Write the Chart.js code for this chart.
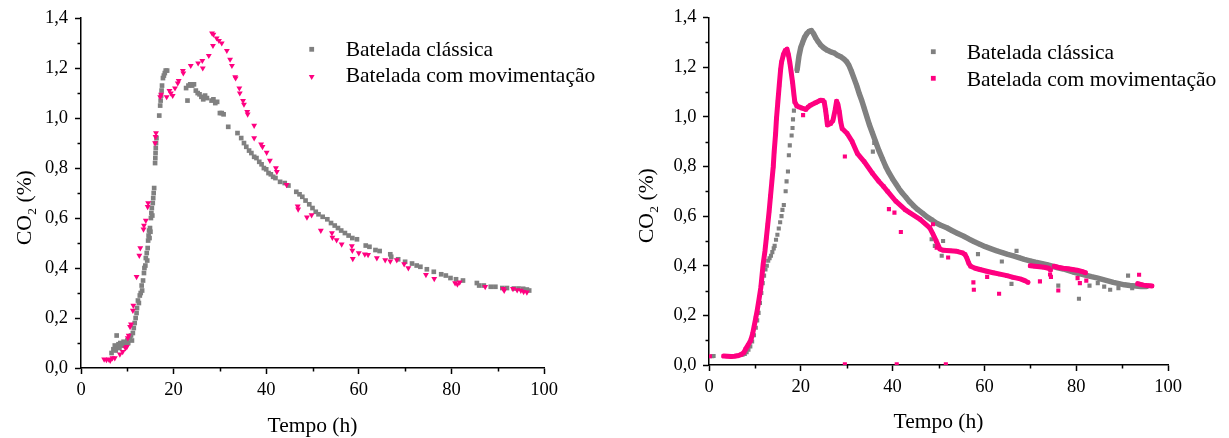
<!DOCTYPE html>
<html>
<head>
<meta charset="utf-8">
<title>CO2 - bateladas</title>
<script src="https://cdn.jsdelivr.net/npm/chart.js@4.4.1/dist/chart.umd.min.js"></script>
<style>
  html, body { margin: 0; padding: 0; background: #fff; }
  #wrap { position: relative; width: 1229px; height: 438px; overflow: hidden; }
  canvas { position: absolute; top: 0; }
  #chartA { left: 0; }
  #chartB { left: 614px; }
</style>
</head>
<body>
<div id="wrap">
  <canvas id="chartA" width="614" height="438"></canvas>
  <canvas id="chartB" width="615" height="438"></canvas>
</div>
<script>
// ---- axes ----
const timeTicks = [0, 20, 40, 60, 80, 100];
const timeLabels = ['0', '20', '40', '60', '80', '100'];
const timeMinor = [10, 30, 50, 70, 90];
const co2Ticks = [0, 0.2, 0.4, 0.6, 0.8, 1.0, 1.2, 1.4];
const co2Labels = ['0,0', '0,2', '0,4', '0,6', '0,8', '1,0', '1,2', '1,4'];
const co2Minor = [0.1, 0.3, 0.5, 0.7, 0.9, 1.1, 1.3];
const seriesNames = ['Batelada clássica', 'Batelada com movimentação'];

// ---- left panel: [tempo (h), CO2 (%)] ----
const classicA = [
  [6.6,0.06],[7.0,0.075],[7.3,0.09],[7.5,0.07],[7.7,0.13],[7.9,0.085],[8.1,0.095],[8.3,0.08],[8.5,0.1],[8.7,0.09],
  [9.0,0.095],[9.2,0.105],[9.4,0.09],[9.7,0.1],[10.0,0.11],[10.2,0.1],[10.5,0.12],[10.8,0.13],[11.0,0.11],[11.2,0.14],
  [11.4,0.16],[11.6,0.18],[11.8,0.2],[12.0,0.22],[12.1,0.24],[12.3,0.27],[12.5,0.26],[12.7,0.29],[12.9,0.3],[13.1,0.33],
  [13.2,0.31],[13.4,0.35],[13.6,0.38],[13.7,0.4],[13.9,0.41],[14.0,0.44],[14.2,0.46],[14.3,0.43],[14.4,0.48],[14.5,0.51],
  [14.6,0.53],[14.7,0.55],[14.8,0.52],[14.9,0.56],[15.0,0.545],[15.1,0.6],[15.2,0.62],[15.3,0.64],[15.4,0.61],[15.5,0.66],
  [15.6,0.68],[15.7,0.7],[15.8,0.72],[16.0,0.82],[16.05,0.84],[16.1,0.86],[16.15,0.88],[16.2,0.9],[16.3,0.92],[16.9,1.01],
  [17.1,1.05],[17.2,1.07],[17.3,1.09],[17.4,1.11],[17.5,1.13],[17.7,1.16],[17.9,1.17],[18.1,1.18],[18.3,1.19],[18.6,1.19],
  [22.7,1.12],[23.0,1.07],[23.2,1.13],[23.6,1.135],[24.0,1.13],[24.4,1.135],[24.8,1.11],[25.2,1.1],[25.6,1.095],[26.0,1.085],
  [26.4,1.075],[26.8,1.09],[27.2,1.08],[28.2,1.07],[28.6,1.075],[29.0,1.06],[29.4,1.065],[30.0,1.02],[30.4,1.02],[30.8,1.015],
  [31.8,0.965],[33.8,0.94],[34.6,0.92],[35.2,0.9],[35.7,0.885],[36.3,0.87],[36.8,0.86],[37.4,0.845],[37.9,0.84],[38.5,0.825],
  [39.0,0.815],[39.5,0.8],[40.0,0.795],[40.5,0.78],[41.0,0.775],[41.5,0.765],[42.0,0.76],[43.0,0.745],[44.0,0.74],[44.8,0.73],
  [46.5,0.705],[47.2,0.695],[47.8,0.685],[48.5,0.67],[49.3,0.655],[50.0,0.64],[50.7,0.625],[51.3,0.615],[52.2,0.605],[53.2,0.595],
  [54.0,0.58],[54.8,0.57],[55.5,0.56],[56.2,0.55],[57.0,0.54],[57.8,0.53],[58.6,0.52],[59.6,0.515],[61.5,0.49],[62.3,0.485],
  [63.6,0.472],[64.5,0.468],[66.8,0.455],[67.0,0.445],[68.5,0.435],[70.0,0.425],[71.5,0.418],[72.5,0.41],[73.3,0.405],[74.7,0.395],
  [76.2,0.385],[77.8,0.375],[78.8,0.37],[79.8,0.36],[81.0,0.355],[82.5,0.35],[85.5,0.34],[86.0,0.33],[87.0,0.33],[88.5,0.325],
  [89.5,0.325],[91.0,0.32],[92.0,0.32],[93.5,0.318],[94.5,0.318],[95.5,0.317],[96.3,0.314],[96.8,0.31]
];
const movementA = [
  [5.0,0.035],[5.5,0.033],[6.0,0.035],[6.3,0.03],[6.8,0.04],[7.3,0.04],[8.4,0.055],[9.0,0.065],[9.6,0.08],[9.9,0.085],
  [10.1,0.12],[10.3,0.13],[10.6,0.165],[10.8,0.175],[11.2,0.23],[11.3,0.25],[12.0,0.365],[12.6,0.45],[12.8,0.48],[13.5,0.555],
  [13.6,0.57],[14.0,0.59],[14.4,0.645],[14.5,0.66],[16.0,0.9],[16.1,0.925],[16.2,0.94],[17.1,1.085],[17.3,1.095],[18.5,1.085],
  [19.1,1.11],[19.4,1.1],[19.8,1.09],[20.3,1.12],[20.9,1.14],[21.1,1.15],[22.0,1.19],[22.1,1.18],[23.7,1.21],[25.3,1.22],
  [26.2,1.23],[26.3,1.2],[27.6,1.25],[28.3,1.34],[28.6,1.335],[28.5,1.29],[29.3,1.32],[29.8,1.31],[30.4,1.3],[31.5,1.27],
  [32.2,1.235],[32.6,1.21],[33.3,1.165],[33.4,1.16],[34.2,1.12],[34.3,1.1],[35.0,1.07],[35.2,1.055],[35.9,1.025],[36.0,1.015],
  [37.4,0.97],[37.4,0.92],[38.9,0.895],[39.2,0.885],[40.1,0.862],[40.8,0.83],[42.1,0.8],[42.3,0.785],[44.4,0.733],[46.8,0.647],
  [46.9,0.635],[48.8,0.603],[49.8,0.612],[51.8,0.55],[54.2,0.54],[54.3,0.522],[55.2,0.512],[56.3,0.495],[58.5,0.488],[58.6,0.47],
  [58.7,0.437],[60.0,0.46],[61.3,0.455],[62.0,0.453],[63.9,0.44],[65.7,0.432],[66.8,0.427],[68.2,0.432],[69.8,0.416],[70.7,0.4],
  [74.5,0.373],[76.3,0.357],[80.8,0.34],[81.3,0.335],[81.8,0.343],[87.3,0.325],[91.2,0.317],[91.4,0.31],[93.3,0.317],[94.2,0.312],
  [95.0,0.31],[95.6,0.305],[96.3,0.303]
];

// ---- right panel: continuous logger traces plus isolated readings ----
const classicBRise = [
  [0.7,0.035],[1.0,0.036],[6.8,0.04],[7.3,0.042],[7.8,0.045],[8.2,0.052],[8.6,0.062],[9.0,0.075],[9.4,0.095],[9.8,0.12],
  [10.2,0.15],[10.5,0.18],[10.8,0.21],[11.1,0.25],[11.4,0.29],[11.7,0.33],[12.0,0.36],[12.3,0.385],[12.6,0.40],[12.9,0.42],
  [13.2,0.43],[13.5,0.44],[13.8,0.455],[14.1,0.47],[14.3,0.48],[14.6,0.505],[14.9,0.525],[15.2,0.55],[15.5,0.575],[15.8,0.60],
  [16.0,0.625],[16.3,0.645],[16.7,0.70],[16.9,0.74],[17.2,0.78],[17.4,0.845],[17.6,0.885],[18.0,0.925],[18.2,0.955],[18.3,0.99],
  [18.5,1.025],[18.7,1.06]
];
const classicBTrace = [
  [19.2,1.19],[19.6,1.245],[20.0,1.28],[20.4,1.30],[20.8,1.32],[21.3,1.335],[21.8,1.345],[22.3,1.348],[22.8,1.335],[23.2,1.32],
  [23.7,1.305],[24.3,1.29],[25.0,1.278],[25.8,1.268],[26.5,1.262],[27.2,1.258],[28.0,1.248],[28.7,1.242],[29.4,1.233],[30.0,1.222],
  [30.5,1.207],[31.0,1.185],[31.6,1.155],[32.2,1.125],[32.7,1.095],[33.3,1.065],[33.8,1.035],[34.4,1.0],[34.9,0.97],[35.6,0.935],
  [36.3,0.9],[37.0,0.865],[37.8,0.83],[38.5,0.80],[39.2,0.775],[40.0,0.75],[40.7,0.73],[41.4,0.71],[42.1,0.693],[42.9,0.676],
  [43.6,0.66],[44.5,0.643],[45.5,0.626],[46.5,0.612],[47.5,0.597],[48.5,0.585],[49.5,0.572],[50.5,0.563],[51.8,0.553],[53.0,0.541],
  [54.2,0.53],[55.4,0.52],[56.6,0.508],[57.8,0.497],[59.0,0.487],[60.2,0.477],[61.5,0.468],[62.7,0.46],[63.9,0.453],[65.1,0.446],
  [66.3,0.44],[67.5,0.433],[68.7,0.426],[69.9,0.42],[71.1,0.414],[72.4,0.409],[73.6,0.404],[74.8,0.398],[76.0,0.392],[77.2,0.387],
  [78.4,0.38],[79.6,0.373],[80.8,0.367],[82.0,0.362],[83.3,0.356],[84.5,0.351],[85.7,0.345],[86.9,0.339],[88.1,0.333],[89.3,0.328],
  [90.5,0.323],[91.7,0.32],[92.9,0.318],[94.1,0.316],[95.3,0.316]
];
const classicBScatter = [
  [19.2,1.185],[35.7,0.86],[36.0,0.895],[48.5,0.507],[49.2,0.48],[50.7,0.44],[51.0,0.50],[58.6,0.447],[63.8,0.417],[65.9,0.327],
  [67.0,0.46],[76.1,0.32],[80.6,0.267],[82.9,0.32],[84.7,0.33],[86.1,0.316],[87.4,0.303],[89.2,0.31],[91.3,0.36],[92.2,0.31]
];
const movementBTrace1 = [
  [3.2,0.036],[4.0,0.035],[4.8,0.034],[5.5,0.035],[6.2,0.037],[7.0,0.042],[7.6,0.05],[8.0,0.065],[8.5,0.08],[9.1,0.10],
  [9.5,0.125],[9.8,0.153],[10.2,0.19],[10.5,0.22],[10.9,0.265],[11.3,0.313],[11.8,0.407],[12.2,0.46],[12.5,0.513],[12.8,0.565],
  [13.1,0.62],[13.4,0.68],[13.7,0.74],[14.0,0.80],[14.2,0.86],[14.5,0.93],[14.7,0.993],[15.0,1.06],[15.3,1.127],[15.6,1.19],
  [15.8,1.22],[16.2,1.25],[16.6,1.267],[17.0,1.273],[17.3,1.25],[17.6,1.22],[17.9,1.18],[18.2,1.14],[18.5,1.09],[18.7,1.06],
  [19.1,1.045],[19.6,1.04],[20.3,1.035],[21.1,1.03],[21.6,1.04],[22.1,1.047],[23.2,1.057],[24.3,1.067],[24.8,1.066],[25.1,1.06],
  [25.4,1.027],[25.8,0.967],[26.5,0.973],[27.0,0.985],[27.5,1.03],[27.8,1.063],[28.1,1.05],[28.4,1.02],[28.7,0.98],[29.0,0.953],
  [30.1,0.933],[31.2,0.90],[32.3,0.853],[33.8,0.82],[35.6,0.773],[37.0,0.74],[38.0,0.72],[38.9,0.70],[40.7,0.66],[42.8,0.625],
  [43.8,0.613],[46.0,0.587],[48.1,0.553],[48.8,0.527],[49.5,0.50],[50.3,0.467],[51.1,0.462],[52.5,0.46],[54.0,0.458],[55.2,0.452],
  [55.8,0.445],[56.2,0.43],[56.6,0.41],[57.0,0.398],[58.0,0.39],[59.0,0.385],[60.5,0.378],[61.9,0.372],[63.4,0.366],[64.9,0.36],
  [66.3,0.353],[67.8,0.347],[68.8,0.34],[69.5,0.333]
];
const movementBTrace2 = [
  [70.0,0.40],[71.0,0.398],[72.0,0.396],[73.0,0.394],[74.0,0.39],[74.4,0.383]
];
const movementBTrace3 = [
  [75.2,0.398],[76.2,0.393],[77.2,0.39],[78.2,0.388],[79.2,0.385],[80.2,0.382],[81.2,0.377],[82.0,0.372]
];
const movementBTrace4 = [
  [93.4,0.328],[94.0,0.325],[94.7,0.322],[95.4,0.32],[96.0,0.319],[96.5,0.318]
];
const movementBScatter = [
  [0.2,0.035],[20.5,1.007],[25.6,1.0],[29.6,0.84],[29.6,0.003],[39.2,0.628],[40.4,0.614],[40.9,0.003],[41.8,0.536],[48.8,0.567],
  [49.6,0.473],[51.6,0.003],[52.1,0.433],[57.6,0.333],[57.7,0.303],[60.6,0.355],[63.2,0.287],[72.1,0.337],[74.3,0.365],[74.5,0.355],
  [76.1,0.30],[80.3,0.35],[80.8,0.33],[82.2,0.34],[93.7,0.364]
];

const GRAY = '#808080';
const PINK = '#ff0080';
const FONT = '"Liberation Serif", "Times New Roman", serif';
Chart.defaults.font.family = FONT;
Chart.defaults.color = '#000';

const toXY = arr => arr.map(p => ({ x: p[0], y: p[1] }));

function markers(data, color, style, radius, rotation) {
  return {
    data: toXY(data), showLine: false,
    pointStyle: style, pointRadius: radius, pointRotation: rotation || 0,
    pointBackgroundColor: color, pointBorderWidth: 0, pointHoverRadius: radius
  };
}
function trace(data, color, width) {
  return {
    data: toXY(data), showLine: true, tension: 0,
    borderColor: color, borderWidth: width, borderJoinStyle: 'round', borderCapStyle: 'round',
    pointStyle: 'rect', pointRadius: 2.8, pointBackgroundColor: color, pointBorderWidth: 0
  };
}

// minor ticks, rotated y title with subscript, x title and in-plot legend
const decor = {
  id: 'decor',
  afterDraw(chart, args, o) {
    const ctx = chart.ctx, xs = chart.scales.x, ys = chart.scales.y;
    ctx.save();
    ctx.strokeStyle = '#000';
    ctx.lineWidth = 1.5;
    ctx.beginPath();
    timeMinor.forEach(v => {
      const p = Math.round(xs.getPixelForValue(v)) + 0.5;
      ctx.moveTo(p, xs.top); ctx.lineTo(p, xs.top + 3.5);
    });
    co2Minor.forEach(v => {
      const p = Math.round(ys.getPixelForValue(v)) + 0.5;
      ctx.moveTo(ys.right, p); ctx.lineTo(ys.right - 3.5, p);
    });
    ctx.stroke();

    ctx.fillStyle = '#000';
    ctx.textAlign = 'left';
    ctx.textBaseline = 'alphabetic';
    // y title: CO2 (%)
    ctx.save();
    ctx.translate(o.yTitle.x, o.yTitle.y);
    ctx.rotate(-Math.PI / 2);
    ctx.font = '21.5px ' + FONT;
    ctx.fillText('CO', 0, 0);
    let w = ctx.measureText('CO').width + 0.5;
    ctx.font = '13.5px ' + FONT;
    ctx.fillText('2', w, 5);
    w += ctx.measureText('2').width;
    ctx.font = '21.5px ' + FONT;
    ctx.fillText(' (%)', w, 0);
    ctx.restore();

    // x title
    ctx.font = '21.5px ' + FONT;
    ctx.textAlign = 'center';
    ctx.fillText('Tempo (h)', (chart.chartArea.left + chart.chartArea.right) / 2, o.xTitleY);

    // legend
    ctx.textAlign = 'left';
    o.legend.forEach((it, i) => {
      ctx.fillStyle = it.color;
      const mx = o.legendX, my = o.legendY[i];
      if (it.style === 'tri') {
        ctx.beginPath();
        ctx.moveTo(mx - 2.9, my - 1.7);
        ctx.lineTo(mx + 2.9, my - 1.7);
        ctx.lineTo(mx, my + 3.4);
        ctx.closePath();
        ctx.fill();
      } else {
        ctx.fillRect(mx - 2.4, my - 2.4, 4.8, 4.8);
      }
      ctx.fillStyle = '#000';
      ctx.fillText(seriesNames[i], o.textX, o.textY[i]);
    });
    ctx.restore();
  }
};

function makePanel(id, datasets, g, deco) {
  return new Chart(document.getElementById(id), {
    type: 'scatter',
    data: { datasets },
    options: {
      responsive: false,
      animation: false,
      events: [],
      layout: { padding: { top: 15, right: g.right, left: 0, bottom: 0 } },
      plugins: { legend: { display: false }, tooltip: { enabled: false }, decor: deco },
      scales: {
        x: {
          type: 'linear', min: 0, max: 100,
          afterFit: s => { s.height = g.xh; },
          afterBuildTicks: s => { s.ticks = timeTicks.map(v => ({ value: v })); },
          ticks: { callback: (v, i) => timeLabels[i], font: { size: 18.5 }, color: '#000', padding: 5, maxRotation: 0, autoSkip: false },
          grid: { drawOnChartArea: false, tickLength: 6, tickWidth: 1.5, tickColor: '#000' },
          border: { color: '#000', width: 1.5 }
        },
        y: {
          type: 'linear', min: 0, max: 1.4,
          afterFit: s => { s.width = g.yw; },
          afterBuildTicks: s => { s.ticks = co2Ticks.map(v => ({ value: v })); },
          ticks: { callback: (v, i) => co2Labels[i], font: { size: 18.5 }, color: '#000', padding: g.ypad, autoSkip: false },
          grid: { drawOnChartArea: false, tickLength: 6, tickWidth: 1.5, tickColor: '#000' },
          border: { color: '#000', width: 1.5 }
        }
      }
    },
    plugins: [decor]
  });
}

makePanel('chartA', [
  markers(movementA, PINK, 'triangle', 3.4, 180),
  markers(classicA, GRAY, 'rect', 3.3)
], { right: 70, xh: 70, yw: 81, ypad: 7 }, {
  yTitle: { x: 31, y: 245 },
  xTitleY: 431.5,
  legendX: 311.7, legendY: [49.3, 76.7],
  textX: 345.7, textY: [55.5, 82.3],
  legend: [{ color: GRAY, style: 'rect' }, { color: PINK, style: 'tri' }]
});

makePanel('chartB', [
  markers(movementBScatter, PINK, 'rect', 2.9),
  trace(movementBTrace1, PINK, 5),
  trace(movementBTrace2, PINK, 5),
  trace(movementBTrace3, PINK, 5),
  trace(movementBTrace4, PINK, 5),
  markers(classicBScatter, GRAY, 'rect', 2.9),
  markers(classicBRise, GRAY, 'rect', 2.9),
  trace(classicBTrace, GRAY, 5.5)
], { right: 61, xh: 73, yw: 95, ypad: 6.5 }, {
  yTitle: { x: 38.5, y: 243 },
  xTitleY: 428,
  legendX: 319.3, legendY: [51.7, 78.3],
  textX: 352.7, textY: [59.3, 85.8],
  legend: [{ color: GRAY, style: 'rect' }, { color: PINK, style: 'rect' }]
});
</script>
</body>
</html>
